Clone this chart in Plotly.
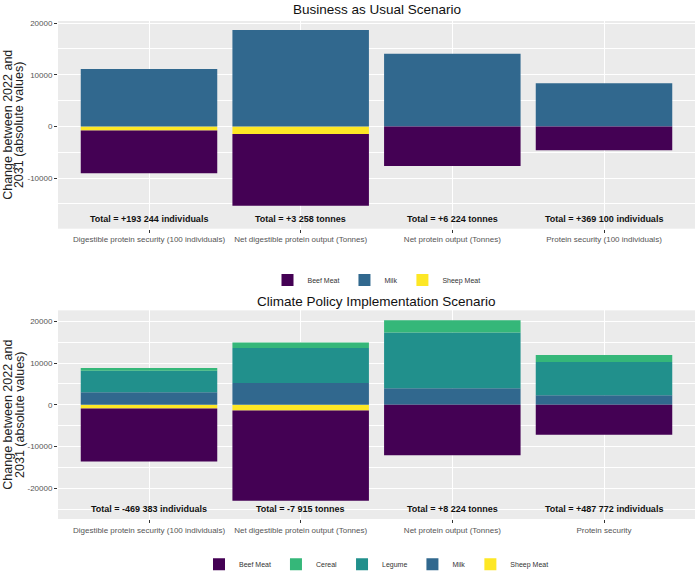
import plotly.graph_objects as go
from plotly.subplots import make_subplots

# ---------------- data ----------------
categories_bau = ["Digestible protein security (100 individuals)",
                  "Net digestible protein output (Tonnes)",
                  "Net protein output (Tonnes)",
                  "Protein security (100 individuals)"]
categories_cpi = ["Digestible protein security (100 individuals)",
                  "Net digestible protein output (Tonnes)",
                  "Net protein output (Tonnes)",
                  "Protein security"]

beef_bau = [-8250, -13900, -7690, -4620]
milk_bau = [11100, 18650, 14040, 8330]
sheep_bau = [-800, -1480, 0, 0]
totals_bau = ["Total = +193 244 individuals", "Total = +3 258 tonnes",
              "Total = +6 224 tonnes", "Total = +369 100 individuals"]

beef_cpi = [-12690, -21580, -12060, -7140]
cereal_cpi = [630, 1360, 2940, 1660]
legume_cpi = [5150, 8330, 13330, 7940]
milk_cpi = [3020, 5240, 3970, 2300]
sheep_cpi = [-880, -1350, 0, 0]
totals_cpi = ["Total = -469 383 individuals", "Total = -7 915 tonnes",
              "Total = +8 224 tonnes", "Total = +487 772 individuals"]

ticks_bau = [-10000, 0, 10000, 20000]
ticks_cpi = [-20000, -10000, 0, 10000, 20000]

y_title_lines = ["Change between 2022 and", "2031 (absolute values)"]

colors = {"Beef Meat": "#440154", "Cereal": "#35B779", "Legume": "#21908C",
          "Milk": "#31688E", "Sheep Meat": "#FDE725"}
ranks = {"Beef Meat": 1, "Cereal": 2, "Legume": 3, "Milk": 4, "Sheep Meat": 5}

FONT = "Liberation Sans, Arial, sans-serif"

fig = make_subplots(rows=2, cols=1, vertical_spacing=0.1)

def add(name, x, y, row, legend):
    fig.add_trace(go.Bar(name=name, x=x, y=y, marker_color=colors[name],
                         marker_line_width=0, legend=legend,
                         legendrank=ranks[name]), row=row, col=1)

# order: first traces are nearest to zero
add("Sheep Meat", categories_bau, sheep_bau, 1, "legend")
add("Milk", categories_bau, milk_bau, 1, "legend")
add("Beef Meat", categories_bau, beef_bau, 1, "legend")

add("Sheep Meat", categories_cpi, sheep_cpi, 2, "legend2")
add("Milk", categories_cpi, milk_cpi, 2, "legend2")
add("Legume", categories_cpi, legume_cpi, 2, "legend2")
add("Cereal", categories_cpi, cereal_cpi, 2, "legend2")
add("Beef Meat", categories_cpi, beef_cpi, 2, "legend2")

# total labels
for cats, tots, ly, xr, yr in [(categories_bau, totals_bau, -18000, "x", "y"),
                               (categories_cpi, totals_cpi, -25000, "x2", "y2")]:
    for c, t in zip(cats, tots):
        fig.add_annotation(x=c, y=ly, xref=xr, yref=yr, text="<b>%s</b>" % t,
                           showarrow=False, font=dict(size=9, color="#111111", family=FONT))

axis_common = dict(showgrid=True, gridcolor="white", gridwidth=1.1,
                   ticks="outside", ticklen=3, tickcolor="#333333", tickwidth=1,
                   zeroline=False, showline=False, automargin=False)

fig.update_xaxes(**axis_common, tickfont=dict(size=8, color="#555555", family=FONT))
fig.update_yaxes(**axis_common, tickfont=dict(size=8, color="#555555", family=FONT),
                 minor=dict(dtick=5000, showgrid=True, gridcolor="white", gridwidth=0.5))

fig.update_xaxes(domain=[0, 1], range=[-0.6, 3.6])
fig.update_yaxes(row=1, col=1, domain=[0.583, 1.0], range=[-19800, 20400],
                 tickvals=ticks_bau, ticktext=[str(v) for v in ticks_bau])
fig.update_yaxes(row=2, col=1, domain=[0.0, 0.419], range=[-27300, 22600],
                 tickvals=ticks_cpi, ticktext=[str(v) for v in ticks_cpi])

# y-axis titles (two lines, placed left of tick labels)
for yc in [(0.583 + 1.0) / 2, 0.419 / 2]:
    for line, xp in zip(y_title_lines, [-0.0785, -0.0608]):
        fig.add_annotation(text=line, xref="paper", yref="paper", x=xp, y=yc,
                           xanchor="center", yanchor="middle", textangle=-90,
                           showarrow=False,
                           font=dict(size=12.5, color="#222222", family=FONT))

fig.add_annotation(text="Business as Usual Scenario", xref="paper", yref="paper",
                   x=0.5, y=1.024, yanchor="middle", showarrow=False,
                   font=dict(size=13.5, color="#111111", family=FONT))
fig.add_annotation(text="Climate Policy Implementation Scenario", xref="paper", yref="paper",
                   x=0.5, y=0.437, yanchor="middle", showarrow=False,
                   font=dict(size=13.5, color="#111111", family=FONT))

legend_common = dict(orientation="h", xanchor="center", yanchor="middle",
                     font=dict(size=7, color="#333333", family=FONT),
                     bgcolor="rgba(0,0,0,0)", itemwidth=30, traceorder="normal")

fig.update_layout(
    width=700, height=584,
    barmode="relative", bargap=0.1,
    plot_bgcolor="#EBEBEB", paper_bgcolor="white",
    margin=dict(l=58, r=5, t=21, b=62),
    font=dict(family=FONT),
    showlegend=True,
    legend=dict(**legend_common, x=0.5, y=0.48),
    legend2=dict(**legend_common, x=0.5, y=-0.091),
)

fig.write_html("out.html")
